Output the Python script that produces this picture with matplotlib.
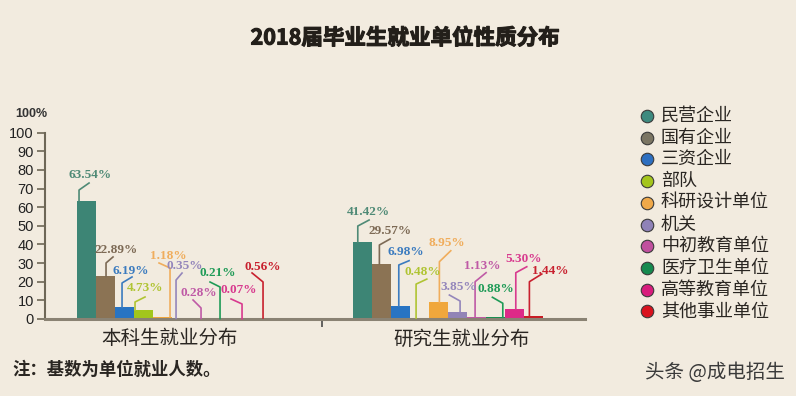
import matplotlib
matplotlib.use("Agg")
import matplotlib.pyplot as plt
from matplotlib.lines import Line2D
import matplotlib.transforms as mtrans
import matplotlib.patheffects as pe

plt.rcParams['font.family'] = ['Noto Sans CJK SC', 'DejaVu Sans']

# ---------------- data ----------------
title = "2018届毕业生就业单位性质分布"
groups = ["本科生就业分布", "研究生就业分布"]
categories = ["民营企业", "国有企业", "三资企业", "部队", "科研设计单位",
              "机关", "中初教育单位", "医疗卫生单位", "高等教育单位", "其他事业单位"]
undergrad = [63.54, 22.89, 6.19, 4.73, 1.18, 0.35, 0.28, 0.21, 0.07, 0.56]
graduate = [41.42, 29.57, 6.98, 0.48, 8.95, 3.85, 1.13, 0.88, 5.30, 1.44]
y_ticks = [0, 10, 20, 30, 40, 50, 60, 70, 80, 90, 100]
note = "注：基数为单位就业人数。"
watermark = "头条 @成电招生"

# ---------------- style ----------------
bar_colors = ['#3d8575', '#8b7354', '#2874c3', '#a2c61c', '#f0a73c',
              '#9284b6', '#c05aa5', '#179050', '#dd2a88', '#c81c24']
label_colors = ['#4f8a76', '#7d6a55', '#3b7bbf', '#b0c433', '#f0ad5c',
                '#9486bb', '#bf5aa6', '#1f9b57', '#d83a8e', '#c8202e']
legend_colors = ['#3e8a7f', '#7b7563', '#2d6fc0', '#a4c51c', '#f0a94a',
                 '#8f82b8', '#c0509e', '#168a4f', '#d81c7c', '#d9121e']
bg = '#f2ebdf'

# leader layout (pixels): anchor dx, vertical rise, diag dx, diag dy, label dx, label dy
lead1 = [(-7.2, 10.6, 10, 7, 1, 8), (0.8, 13.4, 7, 6, 3, 7), (-2.2, 24.5, 10, 6, -1, 6),
         (-8.2, 8.2, 10, 5, 0, 9), (7.8, 48.8, -11, 5, 9, 7), (-5.2, 38.3, 6, 7, 3, 7),
         (0.8, 10.5, -8, 8, 6, 7), (0.8, 31.6, -10, 5, 8, 9), (3.8, 14.9, -11, 5, 8, 9),
         (5.8, 36, -11, 9, 11, 6)]
lead2 = [(-5.1, 15.8, 11.3, 6, -0.7, 8.3), (-2.5, 18.9, 10.7, 6, 0, 8), (-2.1, 41, 10.3, 4.3, -3, 8.7),
         (-3.8, 34, 10.7, 5, -3.7, 7.3), (0.5, 40.6, 11.4, 11, -4, 8), (2.2, 10.8, -10.7, 6, 9, 8.3),
         (-1.8, 35.2, 11, 9, -4.3, 6.7), (6.9, 14.1, -10.4, 6, 3.4, 8.3), (0.9, 36.4, 11, 6, -3.4, 7.7),
         (-4.5, 34.6, 12.4, 7.7, 8.3, 3.3)]

W, H = 796, 396
fig = plt.figure(figsize=(W / 100, H / 100), dpi=100, facecolor=bg)
ax = fig.add_axes([45 / W, (H - 319) / H, 540 / W, (319 - 132.7) / H])
ax.set_facecolor(bg)

g1_x = [i for i in range(len(categories))]
g2_x = [14.56 + i for i in range(len(categories))]
ax.bar(g1_x, undergrad, width=1.0, color=bar_colors, zorder=2)
ax.bar(g2_x, graduate, width=1.0, color=bar_colors, zorder=2)

ax.set_xlim(-2.17, 26.25)
ax.set_ylim(0, 100)

for s in ['top', 'right']:
    ax.spines[s].set_visible(False)
ax.spines['left'].set_color('#6e6757')
ax.spines['left'].set_linewidth(1.5)
ax.spines['left'].set_bounds(0, 100)
ax.spines['bottom'].set_color('#8a8273')
ax.spines['bottom'].set_linewidth(2.2)
ax.spines['bottom'].set_zorder(3)

ax.set_yticks(y_ticks)
ax.set_yticklabels([str(t) for t in y_ticks], family=['Liberation Sans'], fontsize=10.5, color='#222222')
ax.tick_params(axis='y', direction='out', length=6, width=1.2, color='#6e6757', pad=2)
ax.set_xticks([12.41])
ax.set_xticklabels([''])
ax.tick_params(axis='x', direction='out', length=6, width=1.2, color='#4a4a4a')

fig.text(31 / W, 1 - 114 / H, "100%", family=['Liberation Sans'], fontsize=9, fontweight='bold',
         color='#333333', ha='center', va='center')

# category labels
trans = mtrans.blended_transform_factory(ax.transData, fig.transFigure)
for xc, name in zip([4.41, 19.78], groups):
    ax.text(xc, 1 - 339 / H, name, transform=trans, ha='center', va='center',
            fontsize=14, color='#2a2622')

# title
fig.text(405 / W, 1 - 38 / H, title, ha='center', va='center', fontsize=15.5,
         fontweight='bold', color='#231f1a',
         path_effects=[pe.withStroke(linewidth=0.8, foreground='#231f1a')])

# value labels with leader lines
fig.canvas.draw()
def add_labels(xs, vals, leads):
    for i, (x, v, ld) in enumerate(zip(xs, vals, leads)):
        px, py = ax.transData.transform((x, v))
        adx, rise, edx, edy, ldx, ldy = ld
        x0, y0 = px + adx, py
        x1, y1 = x0, py + rise
        x2, y2 = x1 + edx, y1 + edy
        c = label_colors[i]
        fig.add_artist(Line2D([x0 / W, x1 / W, x2 / W], [y0 / H, y1 / H, y2 / H],
                              transform=fig.transFigure, color=c, linewidth=1.2, zorder=4))
        fig.text((x2 + ldx) / W, (y2 + ldy) / H, f"{v:.2f}%", ha='center', va='center',
                 family=['Liberation Serif'], fontsize=9.5, fontweight='bold', color=c, zorder=5)

add_labels(g1_x, undergrad, lead1)
add_labels(g2_x, graduate, lead2)

# legend (manual)
for i, (name, c) in enumerate(zip(categories, legend_colors)):
    yy = 1 - (116 + i * 21.7) / H
    fig.add_artist(Line2D([647 / W], [yy], transform=fig.transFigure, marker='o', markersize=9,
                          markerfacecolor=c, markeredgecolor='#3a3a3a', markeredgewidth=0.8,
                          linestyle='none'))
    fig.text(661 / W, yy, name, ha='left', va='center', fontsize=13, color='#2a2622')

# note & watermark
fig.text(12 / W, 1 - 370 / H, note, ha='left', va='center', fontsize=12.5,
         fontweight='bold', color='#2a2622')
fig.text(785 / W, 1 - 372 / H, watermark, ha='right', va='center', fontsize=14,
         color='#3a3a3a')

fig.savefig("out.png", dpi=100, facecolor=bg)
